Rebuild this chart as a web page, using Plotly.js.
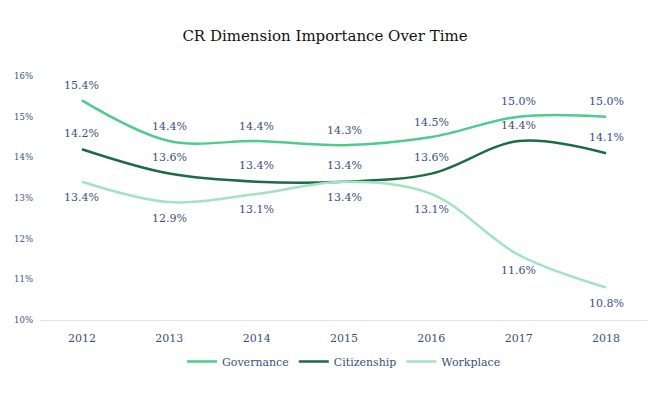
<!DOCTYPE html>
<html><head><meta charset="utf-8">
<script src="https://cdn.plot.ly/plotly-3.0.1.min.js"></script>
<style>body{margin:0}#c{width:650px;height:400px}</style>
</head><body><div id="c"></div>
<script>
const years = ['2012','2013','2014','2015','2016','2017','2018'];
const governance = [0.154,0.144,0.144,0.143,0.145,0.150,0.150];
const citizenship = [0.142,0.136,0.134,0.134,0.136,0.144,0.141];
const workplace = [0.134,0.129,0.131,0.134,0.131,0.116,0.108];

const font = 'Georgia, "DejaVu Serif", serif';
const txtColor = '#3b4f82';
function tr(name, y, color){
  return {x: years, y: y, name: name, type:'scatter', mode:'lines',
    line:{color:color, width:2.5, shape:'spline', smoothing:1}, cliponaxis:false};
}
const data = [
  tr('Governance', governance, '#4dcc8d'),
  tr('Citizenship', citizenship, '#1d6b45'),
  tr('Workplace', workplace, '#a2e3c3')
];
function labels(y, shift){
  return y.map((v,i) => ({x: i, y: v, text: (v*100).toFixed(1)+'%', showarrow:false,
    yshift: shift, xanchor:'center', yanchor:'middle',
    font:{family:font, size:11, color:txtColor}}));
}
const annotations = [].concat(labels(governance, 15), labels(citizenship, 16), labels(workplace, -16));
const layout = {
  width:650, height:400,
  margin:{l:40, r:2, t:76, b:80},
  paper_bgcolor:'#fff', plot_bgcolor:'#fff',
  title:{text:'CR Dimension Importance Over Time', x:0.5, xanchor:'center', y:0.91, yanchor:'middle',
    font:{family:font, size:15, color:'#111'}},
  xaxis:{type:'category', range:[-0.48,6.48], showgrid:false, showline:true, linecolor:'#dfe5ee', linewidth:1,
    ticks:'', ticklabelstandoff:8, tickfont:{family:font, size:11, color:txtColor}, zeroline:false},
  yaxis:{range:[0.10,0.16], dtick:0.01, tickformat:'.0%', showgrid:false, showline:false, zeroline:false,
    ticks:'', ticklabelstandoff:6, tickfont:{family:font, size:8.5, color:txtColor}},
  annotations: annotations,
  showlegend:true,
  legend:{orientation:'h', x:0.5, xanchor:'center', y:-0.17, yanchor:'middle',
    font:{family:font, size:11, color:txtColor}, itemwidth:30}
};
Plotly.newPlot('c', data, layout, {displayModeBar:false, staticPlot:true});
</script></body></html>
